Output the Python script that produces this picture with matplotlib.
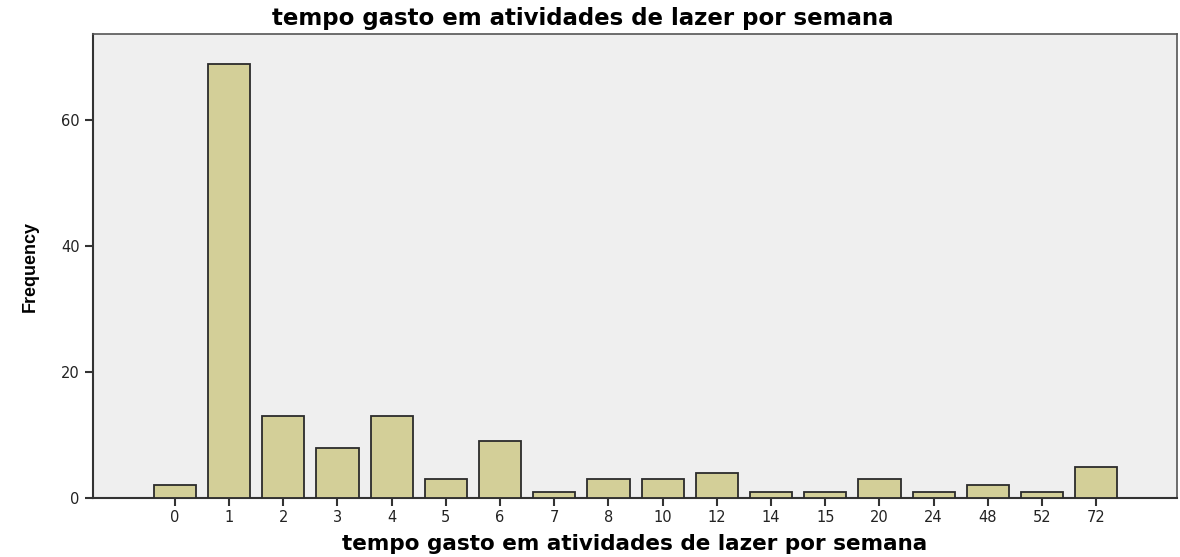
import matplotlib
matplotlib.use("Agg")
import matplotlib.pyplot as plt

categories = ["0", "1", "2", "3", "4", "5", "6", "7", "8", "10", "12", "14", "15", "20", "24", "48", "52", "72"]
frequencies = [2, 69, 13, 8, 13, 3, 9, 1, 3, 3, 4, 1, 1, 3, 1, 2, 1, 5]
yticks = [0, 20, 40, 60]

plt.rcParams['font.family'] = ['DejaVu Sans']

fig = plt.figure(figsize=(11.8, 5.57), dpi=100)
ax = fig.add_axes([93/1180, 1-498/557, (1177-93)/1180, (498-34)/557])
ax.set_facecolor('#efefef')

x = list(range(len(categories)))
ax.bar(x, frequencies, width=0.78, color='#d3cf98', edgecolor='#2b2b2b', linewidth=1.3, zorder=3)

ax.set_xlim(-1.51, len(categories) - 1 + 1.49)
ax.set_ylim(0, 73.7)
ax.set_xticks(x)
ax.set_xticklabels(categories)
ax.set_yticks(yticks)
ax.tick_params(axis='both', direction='out', length=6, width=1.5, color='#333333', labelsize=10.5, labelcolor='#222222')
ax.tick_params(axis='x', pad=3)

for side in ['left', 'bottom']:
    ax.spines[side].set_color('#333333')
    ax.spines[side].set_linewidth(1.5)
for side in ['top', 'right']:
    ax.spines[side].set_color('#555555')
    ax.spines[side].set_linewidth(1.2)

fig.text(583/1180, 1-19/557, 'tempo gasto em atividades de lazer por semana', fontsize=16.5,
         fontweight='bold', ha='center', va='center')
ax.set_xlabel('tempo gasto em atividades de lazer por semana', fontsize=15.5, fontweight='bold', labelpad=6)
ax.set_ylabel('Frequency', fontsize=13, fontweight='bold', labelpad=16,
              family=['Liberation Sans Narrow', 'Liberation Sans', 'DejaVu Sans'])

fig.savefig('out.png', dpi=100)
